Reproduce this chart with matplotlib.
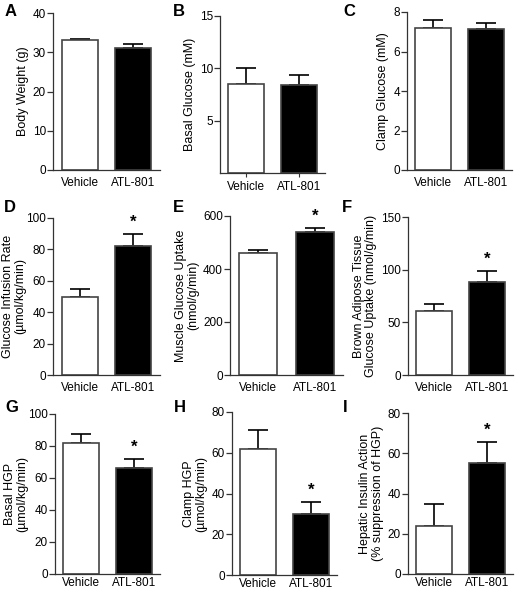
import numpy as np
import matplotlib.pyplot as plt

plt.rcParams['font.family'] = ['Liberation Sans', 'DejaVu Sans']

groups = ['Vehicle', 'ATL-801']

body_weight = [33.0, 31.0]
body_weight_err = [0.5, 1.0]
basal_glucose = [8.5, 8.4]
basal_glucose_err = [1.5, 1.0]
clamp_glucose = [7.2, 7.15]
clamp_glucose_err = [0.4, 0.3]
gir = [50.0, 82.0]
gir_err = [5.0, 8.0]
muscle_uptake = [460.0, 540.0]
muscle_uptake_err = [10.0, 15.0]
bat_uptake = [61.0, 88.0]
bat_uptake_err = [6.0, 11.0]
basal_hgp = [82.0, 66.0]
basal_hgp_err = [5.5, 6.0]
clamp_hgp = [62.0, 30.0]
clamp_hgp_err = [9.0, 6.0]
hepatic_action = [24.0, 55.0]
hepatic_action_err = [11.0, 10.5]

# letter, y label, means, sem, y max, y ticks, ATL-801 significant
panels = [
    ('A', 'Body Weight (g)', body_weight, body_weight_err, 40, [0, 10, 20, 30, 40], False),
    ('B', 'Basal Glucose (mM)', basal_glucose, basal_glucose_err, 15, [5, 10, 15], False),
    ('C', 'Clamp Glucose (mM)', clamp_glucose, clamp_glucose_err, 8, [0, 2, 4, 6, 8], False),
    ('D', 'Glucose Infusion Rate\n(µmol/kg/min)', gir, gir_err, 100, [0, 20, 40, 60, 80, 100], True),
    ('E', 'Muscle Glucose Uptake\n(nmol/g/min)', muscle_uptake, muscle_uptake_err, 600, [0, 200, 400, 600], True),
    ('F', 'Brown Adipose Tissue\nGlucose Uptake (nmol/g/min)', bat_uptake, bat_uptake_err, 150, [0, 50, 100, 150], True),
    ('G', 'Basal HGP\n(µmol/kg/min)', basal_hgp, basal_hgp_err, 100, [0, 20, 40, 60, 80, 100], True),
    ('H', 'Clamp HGP\n(µmol/kg/min)', clamp_hgp, clamp_hgp_err, 80, [0, 20, 40, 60, 80], True),
    ('I', 'Hepatic Insulin Action\n(% suppression of HGP)', hepatic_action, hepatic_action_err, 80, [0, 20, 40, 60, 80], True),
]

# axes boxes in pixels: left, right, top, bottom
W, H = 515, 592
boxes = [
    (53, 160, 13, 170), (220, 325, 16, 173), (407, 512, 12, 170),
    (53, 160, 218, 375), (230, 343, 216, 375), (408, 513, 217, 375),
    (55, 160, 414, 574), (232, 337, 412, 575), (408, 513, 413, 574),
]
letter_pos = [(5, 4), (173, 4), (343, 4), (4, 200), (173, 200), (342, 200),
              (5, 400), (174, 400), (343, 400)]

fig = plt.figure(figsize=(W / 100, H / 100), dpi=100)

for (letter, ylabel, vals, errs, ymax, ticks, sig), (l, r, t, b), (lx, ly) in zip(panels, boxes, letter_pos):
    ax = fig.add_axes([l / W, 1 - b / H, (r - l) / W, (b - t) / H])
    x = np.arange(len(groups))
    ax.bar(x, vals, width=0.68, color=['white', 'black'], edgecolor='#444444', linewidth=1.2, zorder=2)
    ax.errorbar(x, vals, yerr=[[0, 0], errs], fmt='none', ecolor='black',
                elinewidth=1.2, capsize=7, capthick=1.2, zorder=1)
    if sig:
        ax.annotate('*', (1, vals[1] + errs[1]), xytext=(0, 3), textcoords='offset points',
                    ha='center', va='bottom', fontsize=12, fontweight='bold')
    ax.set_xlim(-0.5, 1.5)
    ax.set_ylim(0, ymax)
    ax.set_yticks(ticks)
    ax.set_xticks(x)
    ax.set_xticklabels(groups, fontsize=8.5)
    ax.tick_params(axis='y', labelsize=8.5, length=4, width=0.9, color='#333333', pad=1)
    if letter == 'B':
        ax.tick_params(axis='x', length=3, pad=3, color='#333333')
    elif letter in 'GHI':
        ax.tick_params(axis='x', length=0, pad=2)
    else:
        ax.tick_params(axis='x', length=0, pad=5)
    for s in ['top', 'right']:
        ax.spines[s].set_visible(False)
    for s in ['left', 'bottom']:
        ax.spines[s].set_color('#333333')
        ax.spines[s].set_linewidth(0.9)
    pad = 0 if letter in 'DG' else 3
    ax.set_ylabel(ylabel, fontsize=9, linespacing=1.05, labelpad=pad)
    fig.text(lx / W, 1 - ly / H, letter, fontsize=12, fontweight='bold', va='top', ha='left')

fig.savefig('out.png', dpi=100)
